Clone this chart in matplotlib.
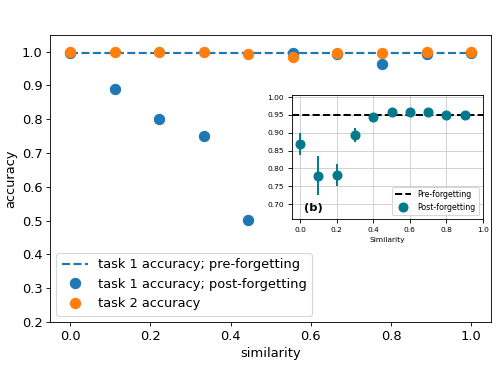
import numpy as np
from matplotlib import pyplot as plt

# main panel data
similarity = np.linspace(0, 1, 10)
pre_forgetting = [0.997] * 10
post_forgetting = [0.997, 0.890, 0.802, 0.750, 0.502, 0.997, 0.993, 0.964, 0.993, 0.997]
task2_acc = [1.000, 1.000, 1.000, 1.000, 0.993, 0.983, 0.995, 0.995, 0.998, 0.998]

# inset panel data
inset_sim = [0.0, 0.1, 0.2, 0.3, 0.4, 0.5, 0.6, 0.7, 0.8, 0.9]
inset_post = [0.869, 0.780, 0.781, 0.894, 0.943, 0.958, 0.959, 0.959, 0.949, 0.949]
inset_err = [0.030, 0.055, 0.031, 0.019, 0.004, 0.004, 0.004, 0.004, 0.004, 0.004]
inset_pre = 0.950

dpi = 498 / 6.4
fig = plt.figure(figsize=(6.4, 374 / dpi), dpi=dpi)
ax = fig.add_axes([0.1004, 0.139, 0.886, 0.768])

ax.plot(similarity, pre_forgetting, '--', c='C0', lw=2, label='task 1 accuracy; pre-forgetting')
ax.plot(similarity, post_forgetting, 'o', c='C0', ms=9.5, label='task 1 accuracy; post-forgetting')
ax.plot(similarity, task2_acc, 'o', c='C1', ms=9.5, label='task 2 accuracy')
ax.set_ylim(0.2, 1.05)
ax.tick_params(labelsize=12)
ax.set_xlabel('similarity', fontsize=12)
ax.set_ylabel('accuracy', fontsize=12)
ax.legend(loc='lower left', fontsize=12)

# inset
ins = fig.add_axes([0.586, 0.414, 0.3835, 0.332])
teal = '#00798c'
ins.axhline(inset_pre, c='k', ls='--', lw=1.8, label='Pre-forgetting')
ins.errorbar(inset_sim, inset_post, yerr=inset_err, fmt='o', c=teal, ms=8.3,
             elinewidth=1.8, label='Post-forgetting')
ins.set_xlim(-0.046, 1.0)
ins.set_ylim(0.658, 1.006)
ins.set_xticks([0.0, 0.2, 0.4, 0.6, 0.8, 1.0])
ins.set_yticks([0.70, 0.75, 0.80, 0.85, 0.90, 0.95, 1.00])
ins.tick_params(labelsize=7)
ins.set_xlabel('Similarity', fontsize=7)
ins.grid(True, color='#cccccc')
ins.text(0.02, 0.69, '(b)', fontsize=10.5, fontweight='bold', va='center')
ins.legend(loc='lower right', fontsize=7.3)

plt.savefig('out.png', dpi=dpi)
